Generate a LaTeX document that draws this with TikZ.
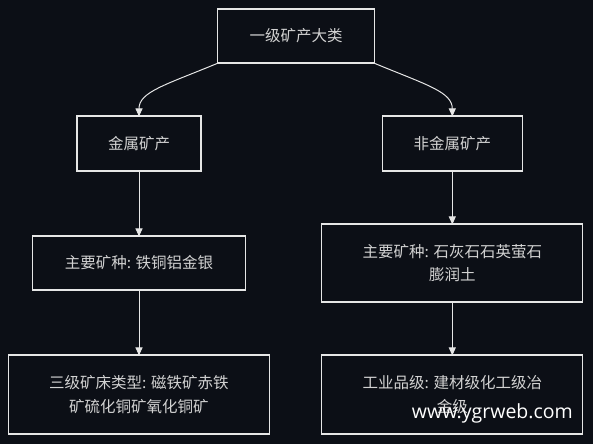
\documentclass[tikz,border=0pt]{standalone}
\usepackage{fontspec}
\newfontfamily\cjk{Noto Sans CJK SC}
\newfontfamily\wm{Open Sans}
\usetikzlibrary{arrows.meta}
\definecolor{bg}{HTML}{0C0F16}
\definecolor{stroke}{HTML}{E6E6E6}
\definecolor{txt}{HTML}{D2D2D2}
\tikzset{
  box/.style={draw=stroke, line width=1.1pt, fill=bg, text=txt, font=\cjk\fontsize{15.5}{23.5}\selectfont, align=center, inner sep=0pt},
  conn/.style={draw=stroke, line width=1pt, -{Triangle[width=7pt,length=8pt]}},
}
\begin{document}
\begin{tikzpicture}[x=1pt,y=-1pt]
\fill[bg] (0,0) rectangle (593,444);
\useasboundingbox (0,0) rectangle (593,444);
\node[box, minimum width=157pt, minimum height=54pt] (top) at (296,36) {一级矿产大类};
\node[box, minimum width=124pt, minimum height=55pt] (met) at (139,143.5) {金属矿产};
\node[box, minimum width=140pt, minimum height=55pt] (non) at (452.3,143.5) {非金属矿产};
\node[box, minimum width=213.5pt, minimum height=54pt] (mainL) at (139,263) {主要矿种: 铁铜铝金银};
\node[box, minimum width=261pt, minimum height=78pt] (mainR) at (452.3,263) {主要矿种: 石灰石石英萤石\\膨润土};
\node[box, minimum width=261pt, minimum height=79pt] (typ) at (138.8,394.5) {三级矿床类型: 磁铁矿赤铁\\矿硫化铜矿氧化铜矿};
\node[box, minimum width=261pt, minimum height=79pt] (ind) at (452.3,394.5) {工业品级: 建材级化工级冶\\金级};
\draw[conn] (top.south west) .. controls (165,85) and (139,92) .. ([yshift=-1pt]met.north);
\draw[conn] (top.south east) .. controls (427,85) and (452.3,92) .. ([yshift=-1pt]non.north);
\draw[conn] ([yshift=1pt]met.south) -- ([yshift=-1pt]mainL.north);
\draw[conn] ([yshift=1pt]non.south) -- ([yshift=-1pt]mainR.north);
\draw[conn] ([yshift=1pt]mainL.south) -- ([yshift=-1pt]typ.north -| mainL.south);
\draw[conn] ([yshift=1pt]mainR.south) -- ([yshift=-1pt]ind.north);
\node[text=white, font=\wm\fontsize{19.5}{20}\selectfont, anchor=base east, inner sep=0pt] (wmk) at (573,418) {www.ygrweb.com};
\end{tikzpicture}
\end{document}
